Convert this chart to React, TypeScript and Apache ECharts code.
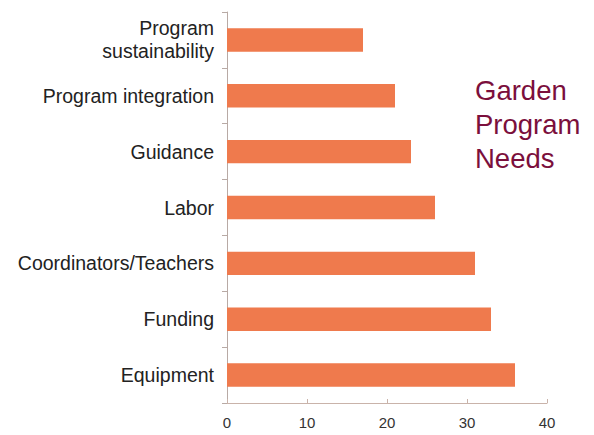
import React, { useEffect, useRef } from "react";
import * as echarts from "echarts";

const categories = [
  "Equipment",
  "Funding",
  "Coordinators/Teachers",
  "Labor",
  "Guidance",
  "Program integration",
  "Program\nsustainability",
];
const values = [36, 33, 31, 26, 23, 21, 17];
const xTicks = [0, 10, 20, 30, 40];
const title = "Garden\nProgram\nNeeds";

export default function App() {
  const ref = useRef<HTMLDivElement>(null);
  useEffect(() => {
    const chart = echarts.init(ref.current!, null, { renderer: "svg" });
    chart.setOption({
      animation: false,
      backgroundColor: "#ffffff",
      grid: { left: 227, right: 47, top: 12, bottom: 32, containLabel: false },
      graphic: [
        {
          type: "text",
          left: 475,
          top: 73,
          style: {
            text: title,
            fill: "#7b0f3c",
            font: "27.5px 'Liberation Sans', Arial, sans-serif",
            lineHeight: 34,
          },
        },
      ],
      xAxis: {
        type: "value",
        min: xTicks[0],
        max: xTicks[xTicks.length - 1],
        interval: 10,
        splitLine: { show: false },
        axisLine: { show: true, lineStyle: { color: "#c9b3aa", width: 1 } },
        axisTick: { show: true, length: 4, inside: true, lineStyle: { color: "#c9b3aa" } },
        axisLabel: {
          color: "#333333",
          fontSize: 15,
          margin: 12,
          fontFamily: "'Liberation Sans', Arial, sans-serif",
        },
      },
      yAxis: {
        type: "category",
        data: categories,
        axisLine: { show: true, lineStyle: { color: "#b8aaa5", width: 1 } },
        axisTick: { show: true, length: 5, alignWithLabel: false, lineStyle: { color: "#b8aaa5" } },
        axisLabel: {
          color: "#222222",
          fontSize: 19.5,
          margin: 13,
          lineHeight: 23,
          fontFamily: "'Liberation Sans', Arial, sans-serif",
          align: "right",
        },
      },
      series: [
        {
          type: "bar",
          data: values,
          barCategoryGap: "58%",
          itemStyle: { color: "#ef7a4d" },
        },
      ],
    });
    return () => chart.dispose();
  }, []);
  return <div ref={ref} style={{ width: 594, height: 435, position: "absolute", left: 0, top: 0 }} />;
}
